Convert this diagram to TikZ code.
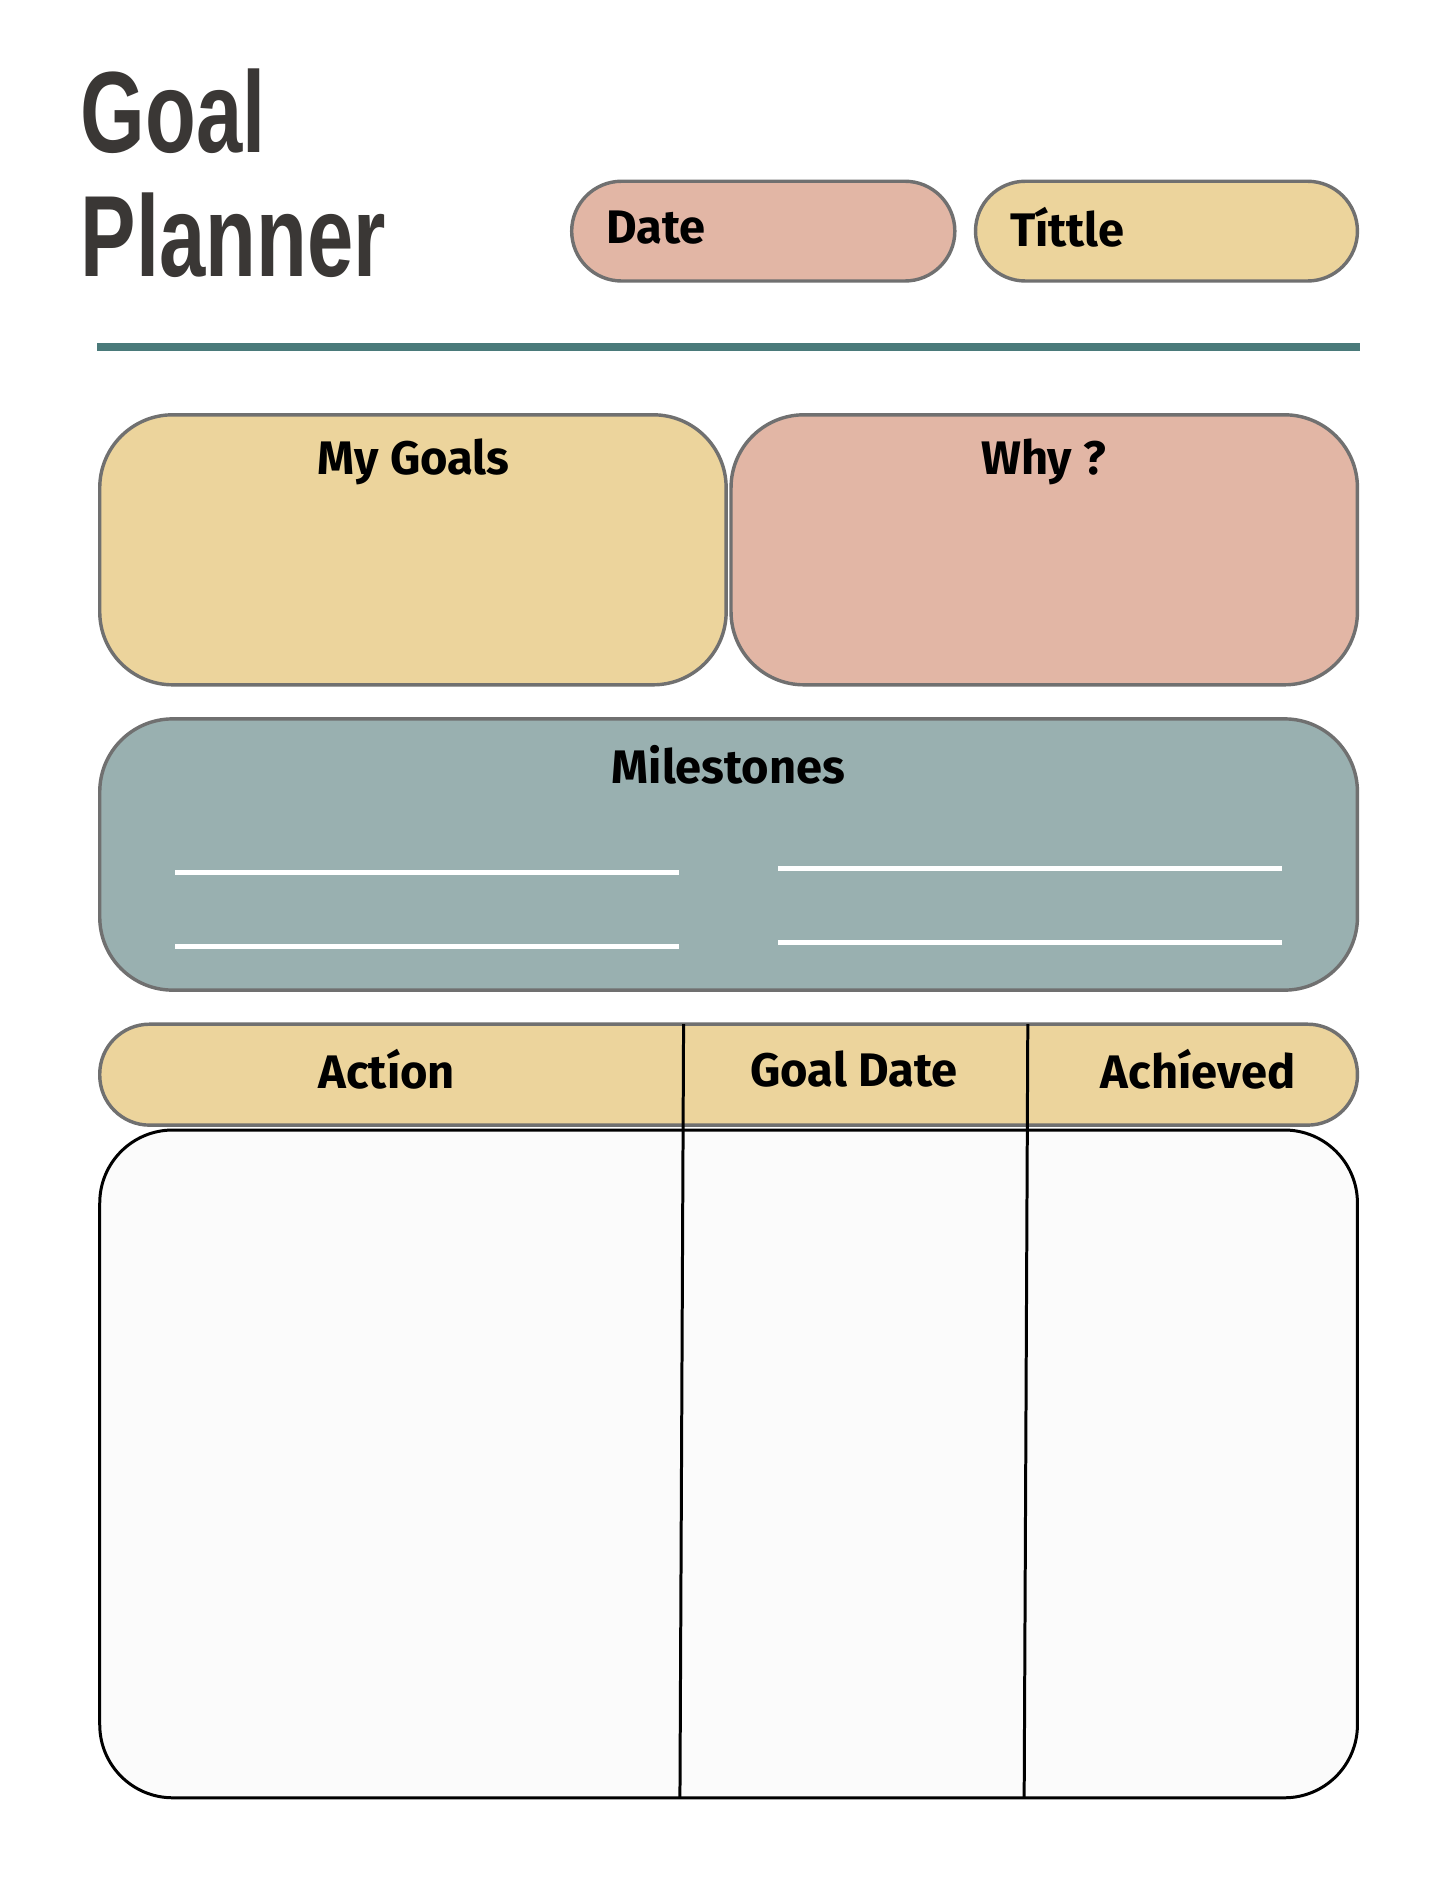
\documentclass[tikz,border=0pt]{standalone}
\usepackage{fontspec}
\setmainfont{Fira Sans}
\newfontfamily\titlefont{Liberation Sans}
\definecolor{pinkc}{HTML}{E2B6A5}
\definecolor{yelc}{HTML}{ECD49C}
\definecolor{tealc}{HTML}{99B0B0}
\definecolor{linec}{HTML}{4A7A7A}
\definecolor{edgec}{HTML}{707070}
\definecolor{darkt}{HTML}{3A3735}
\begin{document}
\begin{tikzpicture}[x=0.01cm,y=-0.01cm,
  panel/.style={draw=edgec,line width=0.8pt},
  lab/.style={font=\fontsize{11}{13}\selectfont\bfseries,text=black},
  wline/.style={white,line width=1.2pt}]
\useasboundingbox (0,0) rectangle (1188,1553);
\fill[white] (0,0) rectangle (1188,1553);
\node[anchor=north west,inner sep=0,text=darkt,font=\titlefont\fontsize{27}{29}\selectfont\bfseries,xscale=0.72,align=left] (title) at (66,56) {Goal\\Planner};
\draw[panel,fill=pinkc,rounded corners=0.41cm] (470,149) rectangle (785,231);
\node[lab,anchor=west] (date) at (486,187) {Date};
\draw[panel,fill=yelc,rounded corners=0.41cm] (802,149) rectangle (1116,231);
\node[lab,anchor=west] (tit) at (818,187) {Títtle};
\draw[linec,line width=1.8pt] (80,285) -- (1118,285);
\draw[panel,fill=yelc,rounded corners=0.6cm] (82,341) rectangle (597,563);
\node[lab] (goals) at (340,380) {My Goals};
\draw[panel,fill=pinkc,rounded corners=0.6cm] (601,341) rectangle (1116,563);
\node[lab] (why) at (858,380) {Why ?};
\draw[panel,fill=tealc,rounded corners=0.6cm] (82,591) rectangle (1116,814);
\node[lab] (mil) at (599,629) {Milestones};
\draw[wline] (144,717) -- (558,717);
\draw[wline] (144,778) -- (558,778);
\draw[wline] (640,714) -- (1054,714);
\draw[wline] (640,775) -- (1054,775);
\draw[panel,fill=yelc,rounded corners=0.41cm] (82,842) rectangle (1116,925);
\draw[black,line width=0.7pt,fill=white!98.5!black,rounded corners=0.6cm] (82,929) rectangle (1116,1478);
\draw[black,line width=0.7pt] (562,842) -- (559,1478);
\draw[black,line width=0.7pt] (845,842) -- (842,1478);
\node[lab] (act) at (318,879) {Actíon};
\node[lab] (gd) at (702,879) {Goal Date};
\node[lab] (ach) at (985,879) {Achíeved};
\end{tikzpicture}
\end{document}
